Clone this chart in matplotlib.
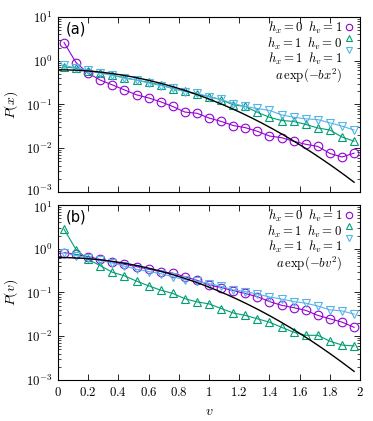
import numpy as np
import matplotlib
matplotlib.use("Agg")
import matplotlib.pyplot as plt
import matplotlib.transforms as mtransforms
from matplotlib.ticker import FixedLocator, FixedFormatter, LogLocator, NullFormatter

plt.rcParams["mathtext.fontset"] = "cm"
plt.rcParams["font.family"] = "serif"
plt.rcParams["font.serif"] = ["DejaVu Serif"]

# bin centres
x = np.arange(0.04, 2.0, 0.08)

# panel (a): P(x)
pa_h01 = [2.6, 0.90, 0.52, 0.36, 0.28, 0.215, 0.166, 0.141, 0.115, 0.090, 0.067, 0.063, 0.049,
          0.041, 0.033, 0.0295, 0.0244, 0.019, 0.0174, 0.0144, 0.0123, 0.011, 0.0076, 0.0063, 0.0077]
pa_h10 = [0.73, 0.67, 0.59, 0.53, 0.47, 0.41, 0.36, 0.32, 0.28, 0.23, 0.20, 0.172, 0.151,
          0.128, 0.098, 0.090, 0.066, 0.051, 0.043, 0.041, 0.035, 0.029, 0.026, 0.018, 0.0145]
pa_h11 = [0.78, 0.69, 0.61, 0.53, 0.46, 0.40, 0.36, 0.31, 0.27, 0.236, 0.196, 0.18, 0.151,
          0.13, 0.105, 0.09, 0.081, 0.073, 0.058, 0.051, 0.047, 0.045, 0.038, 0.032, 0.026]

# panel (b): P(v)
pb_h01 = [0.82, 0.74, 0.66, 0.57, 0.50, 0.44, 0.39, 0.34, 0.30, 0.277, 0.23, 0.19, 0.148,
          0.13, 0.11, 0.095, 0.08, 0.062, 0.051, 0.045, 0.039, 0.030, 0.025, 0.021, 0.016]
pb_h10 = [2.8, 0.95, 0.57, 0.41, 0.29, 0.24, 0.182, 0.142, 0.113, 0.095, 0.072, 0.061, 0.055,
          0.043, 0.034, 0.030, 0.025, 0.021, 0.016, 0.0124, 0.0105, 0.0105, 0.0077, 0.0063, 0.006]
pb_h11 = [0.80, 0.70, 0.61, 0.54, 0.47, 0.40, 0.34, 0.30, 0.27, 0.23, 0.196, 0.18, 0.16,
          0.138, 0.115, 0.105, 0.092, 0.079, 0.071, 0.062, 0.057, 0.049, 0.040, 0.038, 0.032]

# gaussian fit a*exp(-b x^2)
fit_a = [0.62, 0.63]
fit_b = [1.54, 1.56]

labels = [r"$h_x = 0\;\; h_v = 1$", r"$h_x = 1\;\; h_v = 0$", r"$h_x = 1\;\; h_v = 1$"]
fit_labels = [r"$a\,\exp(-bx^2)$", r"$a\,\exp(-bv^2)$"]
panel_tags = ["(a)", "(b)"]
ylabels = [r"$P(x)$", r"$P(v)$"]

colors = ["#9400d3", "#009e73", "#56b4e9"]
markers = ["o", "^", "v"]

fig = plt.figure(figsize=(3.73, 4.21), dpi=100)
ax_a = fig.add_axes([0.1555, 0.544, 0.81, 0.4157])
ax_b = fig.add_axes([0.1555, 0.0974, 0.81, 0.4157])

xf = np.linspace(0, 1.96, 200)

for i, (ax, series) in enumerate([(ax_a, [pa_h01, pa_h10, pa_h11]),
                                  (ax_b, [pb_h01, pb_h10, pb_h11])]):
    for s, c, m in zip(series, colors, markers):
        ax.plot(x, s, color=c, lw=0.8, marker=m, ms=6.2, mfc="none", mec=c, mew=0.8)
    ax.plot(xf, fit_a[i] * np.exp(-fit_b[i] * xf ** 2), color="black", lw=1.0)

    ax.set_yscale("log")
    ax.set_xlim(0, 2)
    ax.set_ylim(1e-3, 10)

    yt = [1e-3, 1e-2, 1e-1, 1, 10]
    ax.yaxis.set_major_locator(FixedLocator(yt))
    ax.yaxis.set_major_formatter(FixedFormatter([r"$10^{-3}$", r"$10^{-2}$", r"$10^{-1}$",
                                                 r"$10^{0}$", r"$10^{1}$"]))
    ax.yaxis.set_minor_locator(LogLocator(base=10, subs=np.arange(2, 10), numticks=20))
    ax.yaxis.set_minor_formatter(NullFormatter())

    xt = np.arange(0, 2.01, 0.2)
    ax.xaxis.set_major_locator(FixedLocator(xt))
    if i == 1:
        ax.xaxis.set_major_formatter(FixedFormatter(["$0$", "$0.2$", "$0.4$", "$0.6$", "$0.8$", "$1$",
                                                     "$1.2$", "$1.4$", "$1.6$", "$1.8$", "$2$"]))
        ax.set_xlabel(r"$v$", fontsize=10, labelpad=4)
    else:
        ax.xaxis.set_major_formatter(NullFormatter())

    ax.tick_params(which="both", direction="in", top=True, right=True, labelsize=9.2, pad=4)
    ax.tick_params(which="major", length=4, width=0.6)
    ax.tick_params(which="minor", length=2, width=0.5)
    for sp in ax.spines.values():
        sp.set_linewidth(0.8)

    ax.set_ylabel(ylabels[i], fontsize=10, labelpad=4)
    ax.text(0.025, 0.93, panel_tags[i], transform=ax.transAxes, fontsize=10.5,
            family="DejaVu Sans", va="center", ha="left")

    # key: one multi-line text block, symbols to the right
    key_text = "\n".join(labels + [fit_labels[i]])
    ax.text(0.94, 0.982, key_text, transform=ax.transAxes, fontsize=9.2,
            ha="right", va="top", multialignment="right", linespacing=0.92)
    for k in range(3):
        yk = 0.942 - k * 0.0645
        ax.plot([0.962], [yk], transform=ax.transAxes, marker=markers[k], ms=4.6,
                mfc="none", mec=colors[k], mew=0.8, ls="none", clip_on=False)

# keep the 10^-3 (top) and 10^1 (bottom) labels from touching
fig.canvas.draw()
shift_up = mtransforms.ScaledTranslation(0, 1.5 / 72, fig.dpi_scale_trans)
shift_dn = mtransforms.ScaledTranslation(0, -1.5 / 72, fig.dpi_scale_trans)
lab_a = ax_a.yaxis.get_majorticklabels()[0]
lab_a.set_transform(lab_a.get_transform() + shift_up)
lab_b = ax_b.yaxis.get_majorticklabels()[-1]
lab_b.set_transform(lab_b.get_transform() + shift_dn)

fig.savefig("out.png", dpi=100)
